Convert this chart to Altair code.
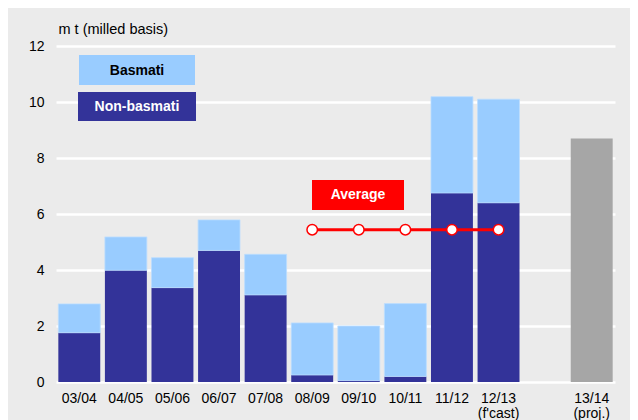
import altair as alt
import pandas as pd

# ---- data ----
seasons = ["03/04", "04/05", "05/06", "06/07", "07/08", "08/09", "09/10", "10/11", "11/12", "12/13"]
non_basmati = [1.76, 3.99, 3.37, 4.70, 3.11, 0.25, 0.05, 0.20, 6.75, 6.40]
total = [2.79, 5.18, 4.44, 5.79, 4.56, 2.11, 2.00, 2.80, 10.19, 10.10]
proj_season = ["13/14"]
proj_total = [8.70]
avg_seasons = ["08/09", "09/10", "10/11", "11/12", "12/13"]
avg_values = [5.44, 5.44, 5.44, 5.44, 5.44]
y_ticks = [0, 2, 4, 6, 8, 10, 12]
domain = seasons + ["gap"] + proj_season

FONT = "Liberation Sans"
LIGHT = "#99CCFF"
DARK = "#333399"
GREY = "#A6A6A6"
RED = "#FF0000"

df = pd.DataFrame({"season": seasons, "non": non_basmati, "total": total})
dfp = pd.DataFrame({"season": proj_season, "total": proj_total})
dfa = pd.DataFrame({"season": avg_seasons, "avg": avg_values})

label_expr = ("datum.value == '12/13' ? ['12/13', \"(f'cast)\"] : "
              "datum.value == '13/14' ? ['13/14', '(proj.)'] : "
              "datum.value == 'gap' ? '' : datum.label")

x_enc = alt.X(
    "season:N",
    scale=alt.Scale(domain=domain, paddingInner=0.1, paddingOuter=0.05),
    axis=alt.Axis(
        title=None, domain=False, ticks=False, labelAngle=0, labelPadding=9,
        labelFont=FONT, labelFontSize=14, labelColor="#000000",
        labelExpr=label_expr, labelLineHeight=15,
    ),
)

y_scale = alt.Scale(domain=[0, 12], nice=False)
y_axis = alt.Axis(
    values=y_ticks, grid=True, gridColor="white", gridWidth=2.5,
    domain=False, ticks=False, labelPadding=12,
    labelFont=FONT, labelFontSize=14, labelColor="#000000",
    title="m t (milled basis)", titleAngle=0, titleAlign="left",
    titleBaseline="alphabetic", titleX=2, titleY=-13,
    titleFont=FONT, titleFontSize=14.5, titleFontWeight="normal", titleColor="#000000",
)

dark = alt.Chart(df).mark_bar(color=DARK).encode(
    x=x_enc, y=alt.Y("non:Q", scale=y_scale, axis=y_axis)
)
light = alt.Chart(df).mark_bar(color=LIGHT, stroke="#BBDDFF", strokeWidth=0.8).encode(
    x=x_enc, y=alt.Y("non:Q", scale=y_scale, axis=y_axis), y2="total:Q"
)
proj = alt.Chart(dfp).mark_bar(color=GREY).encode(
    x=x_enc, y=alt.Y("total:Q", scale=y_scale, axis=y_axis)
)
avg_line = alt.Chart(dfa).mark_line(color=RED, strokeWidth=3).encode(
    x=x_enc, y=alt.Y("avg:Q", scale=y_scale, axis=y_axis)
)
avg_pts = alt.Chart(dfa).mark_point(
    filled=True, fill="white", stroke=RED, strokeWidth=1.5, size=110, opacity=1
).encode(x=x_enc, y=alt.Y("avg:Q", scale=y_scale, axis=y_axis))

# ---- annotations (legend boxes and "Average" label) ----
one = pd.DataFrame({"k": [0]})
leg_b = alt.Chart(one).mark_rect(color=LIGHT).encode(
    x=alt.value(23), x2=alt.value(139), y=alt.value(9), y2=alt.value(39)
)
leg_b_t = alt.Chart(one).mark_text(
    text="Basmati", font=FONT, fontSize=14, fontWeight="bold", color="#000000",
    align="center", baseline="middle"
).encode(x=alt.value(81), y=alt.value(24.5))
leg_n = alt.Chart(one).mark_rect(color=DARK).encode(
    x=alt.value(22), x2=alt.value(140), y=alt.value(46), y2=alt.value(75)
)
leg_n_t = alt.Chart(one).mark_text(
    text="Non-basmati", font=FONT, fontSize=14, fontWeight="bold", color="white",
    align="center", baseline="middle"
).encode(x=alt.value(81), y=alt.value(60.5))
avg_box = alt.Chart(one).mark_rect(color=RED).encode(
    x=alt.value(256), x2=alt.value(348), y=alt.value(134), y2=alt.value(164)
)
avg_t = alt.Chart(one).mark_text(
    text="Average", font=FONT, fontSize=14, fontWeight="bold", color="white",
    align="center", baseline="middle"
).encode(x=alt.value(302), y=alt.value(149))

chart = alt.layer(
    dark, light, proj, avg_line, avg_pts,
    leg_b, leg_b_t, leg_n, leg_n_t, avg_box, avg_t
).properties(
    width=559, height=336,
    padding={"left": 48, "top": 38, "right": 15, "bottom": 38},
    autosize=alt.AutoSizeParams(type="none"),
    background="#EBEBEB",
).configure_view(stroke=None)

chart.save("out.html", embed_options={"renderer": "svg", "actions": False})
